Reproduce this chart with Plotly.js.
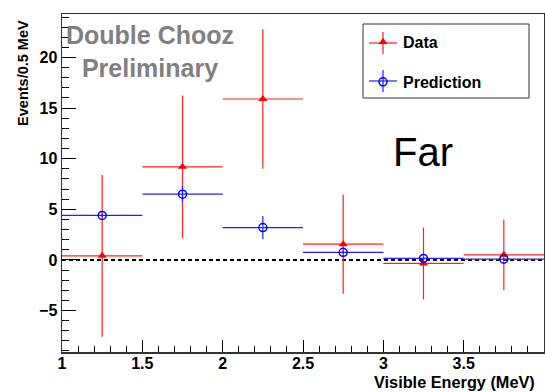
<!DOCTYPE html>
<html>
<head>
<meta charset="utf-8">
<script src="https://cdn.plot.ly/plotly-3.0.1.min.js"></script>
<style>html,body{margin:0;padding:0;background:#fff;}#chart{width:545px;height:392px;}</style>
</head>
<body>
<div id="chart"></div>
<script>
const binCenters = [1.25, 1.75, 2.25, 2.75, 3.25, 3.75];
const binHalfWidth = [0.25, 0.25, 0.25, 0.25, 0.25, 0.25];
const dataValues = [0.4, 9.2, 15.9, 1.55, -0.35, 0.5];
const dataErrors = [8.0, 7.05, 6.9, 4.9, 3.55, 3.5];
const predValues = [4.4, 6.5, 3.2, 0.75, 0.15, 0.07];
const predErrors = [0.2, 0.8, 1.15, 0.2, 0.15, 0.12];

const FONT = 'Liberation Sans, Arial, Helvetica, sans-serif';

const traces = [
  {
    name: 'Data', x: binCenters, y: dataValues, type: 'scatter', mode: 'markers',
    marker: {symbol: 'triangle-up', size: 8, color: '#ff0000'},
    error_x: {type: 'data', array: binHalfWidth, width: 0, thickness: 1.2, color: '#ff2020'},
    error_y: {type: 'data', array: dataErrors, width: 0, thickness: 1.2, color: '#ff2020'},
    legendgroup: 'a'
  },
  {
    name: 'Prediction', x: binCenters, y: predValues, type: 'scatter', mode: 'markers',
    marker: {symbol: 'circle-open', size: 8, color: '#0000ff', line: {width: 1.5, color: '#0000ff'}},
    error_x: {type: 'data', array: binHalfWidth, width: 0, thickness: 1.2, color: '#2020ff'},
    error_y: {type: 'data', array: predErrors, width: 0, thickness: 1.2, color: '#2020ff'},
    legendgroup: 'b'
  }
];

// legend cross glyphs (paper coordinates), drawn behind the transparent legend
function cross(cx, cy, color) {
  return [
    {type: 'line', xref: 'paper', yref: 'paper', x0: cx - 0.029, x1: cx + 0.029, y0: cy, y1: cy,
     line: {color: color, width: 1.2}, layer: 'above'},
    {type: 'line', xref: 'paper', yref: 'paper', x0: cx, x1: cx, y0: cy - 0.0325, y1: cy + 0.0325,
     line: {color: color, width: 1.2}, layer: 'above'}
  ];
}

const layout = {
  width: 545, height: 392,
  margin: {l: 62, r: 1, t: 14, b: 40},
  paper_bgcolor: '#fff', plot_bgcolor: '#fff',
  font: {family: FONT, color: '#000'},
  showlegend: true,
  legend: {
    x: 0.6245, y: 0.967, xanchor: 'left', yanchor: 'top',
    borderwidth: 0, bgcolor: 'rgba(0,0,0,0)',
    font: {family: FONT, size: 16, weight: 'bold'},
    traceorder: 'grouped', tracegroupgap: 16
  },
  xaxis: {
    range: [1, 4], dtick: 0.5, tick0: 1,
    ticks: 'inside', ticklen: 12, tickwidth: 1, tickcolor: '#000',
    minor: {dtick: 0.1, ticks: 'inside', ticklen: 6, tickwidth: 1, tickcolor: '#000'},
    showline: true, linecolor: '#333', linewidth: 1.5, mirror: true,
    showgrid: false, zeroline: false, ticklabelstandoff: -4,
    tickfont: {family: FONT, size: 16, weight: 'bold'}
  },
  yaxis: {
    range: [-9.1, 24.3], dtick: 5, tick0: 0,
    ticks: 'inside', ticklen: 14, tickwidth: 1, tickcolor: '#000',
    minor: {dtick: 1, ticks: 'inside', ticklen: 7, tickwidth: 1, tickcolor: '#000'},
    showline: true, linecolor: '#333', linewidth: 1.5, mirror: true,
    showgrid: false, zeroline: false,
    tickfont: {family: FONT, size: 16, weight: 'bold'}
  },
  shapes: [
    {type: 'line', xref: 'paper', x0: 0, x1: 1, yref: 'y', y0: 0, y1: 0,
     line: {color: '#000', width: 2, dash: '4px,3px'}, layer: 'below'},
    {type: 'rect', xref: 'paper', yref: 'paper', x0: 0.6245, x1: 0.9689, y0: 0.7515, y1: 0.9704,
     line: {color: '#333', width: 1}, fillcolor: '#fff', layer: 'above'}
  ].concat(cross(0.6660, 0.9142, '#ff2020'), cross(0.6660, 0.8018, '#2020ff')),
  annotations: [
    {text: 'Double Chooz<br>Preliminary', xref: 'paper', yref: 'paper', x: 0.183, y: 0.888,
     xanchor: 'center', yanchor: 'middle', showarrow: false,
     font: {family: FONT, size: 25, weight: 'bold', color: '#808080'}},
    {text: 'Far', xref: 'paper', yref: 'paper', x: 0.749, y: 0.592,
     xanchor: 'center', yanchor: 'middle', showarrow: false,
     font: {family: FONT, size: 40, color: '#000'}},
    {text: 'Events/0.5 MeV', xref: 'paper', yref: 'paper', x: -0.080, y: 0.827,
     xanchor: 'center', yanchor: 'middle', textangle: -90, showarrow: false,
     font: {family: FONT, size: 14.5, weight: 'bold', color: '#000'}},
    {text: 'Visible Energy (MeV)', xref: 'paper', yref: 'paper', x: 0.986, y: -0.090,
     xanchor: 'right', yanchor: 'middle', showarrow: false,
     font: {family: FONT, size: 16.3, weight: 'bold', color: '#000'}}
  ]
};

Plotly.newPlot('chart', traces, layout, {displayModeBar: false, staticPlot: true});
</script>
</body>
</html>
